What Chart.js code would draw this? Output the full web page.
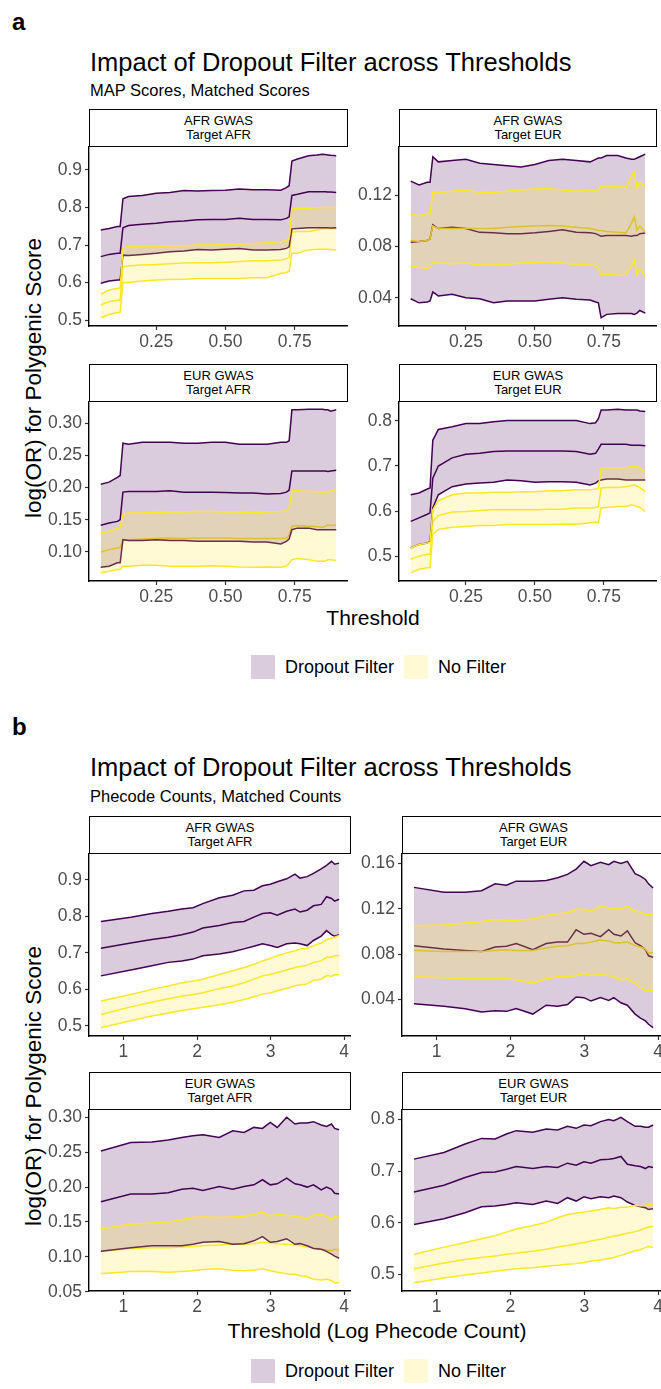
<!DOCTYPE html>
<html lang="en">
<head>
<meta charset="UTF-8">
<title>Impact of Dropout Filter across Thresholds</title>
<script src="https://cdn.jsdelivr.net/npm/chart.js"></script>
<style>
    * { margin: 0; padding: 0; box-sizing: border-box; }

    body {
        width: 661px;
        height: 1389px;
        overflow: hidden;
        position: relative;
        background: #fff;
        color: #000;
        font-family: 'Liberation Sans', Arial, sans-serif;
    }

    .txt { position: absolute; white-space: nowrap; line-height: 1; transform: translateY(-50%); }
    .tag { font-weight: bold; font-size: 24px; }
    .title { font-size: 25.5px; }
    .subtitle { font-size: 16.5px; }
    .xtitle { font-size: 21px; transform: translate(-50%, -50%); }
    .ytitle { font-size: 22.5px; transform: translate(-50%, -50%) rotate(-90deg); }

    .strip {
        position: absolute;
        border: 1.2px solid #000;
        background: #fff;
        font-size: 13px;
        line-height: 14px;
        text-align: center;
        display: flex;
        flex-direction: column;
        justify-content: center;
    }

    .facet { position: absolute; }

    .legend {
        position: absolute;
        display: flex;
        align-items: center;
        gap: 10px;
        font-size: 18px;
        transform: translateY(-50%);
        white-space: nowrap;
    }
    .key { width: 24px; height: 24px; }
</style>
</head>
<body>
    <div class="txt tag" style="left:12px;top:22px">a</div>
    <div class="txt title" style="left:90px;top:63px">Impact of Dropout Filter across Thresholds</div>
    <div class="txt subtitle" style="left:90px;top:90px">MAP Scores, Matched Scores</div>
    <div class="txt ytitle" style="left:34px;top:378px">log(OR) for Polygenic Score</div>
    <div class="txt xtitle" style="left:373px;top:617px">Threshold</div>
    <div class="legend" style="left:251px;top:667px">
        <div class="key" style="background:rgba(68,1,84,0.2)"></div><span>Dropout Filter</span>
        <div class="key" style="background:rgba(253,231,37,0.2)"></div><span>No Filter</span>
    </div>

    <div class="txt tag" style="left:12px;top:727px">b</div>
    <div class="txt title" style="left:90px;top:768px">Impact of Dropout Filter across Thresholds</div>
    <div class="txt subtitle" style="left:90px;top:796px">Phecode Counts, Matched Counts</div>
    <div class="txt ytitle" style="left:34px;top:1086px">log(OR) for Polygenic Score</div>
    <div class="txt xtitle" style="left:377px;top:1330px">Threshold (Log Phecode Count)</div>
    <div class="legend" style="left:251px;top:1371px">
        <div class="key" style="background:rgba(68,1,84,0.2)"></div><span>Dropout Filter</span>
        <div class="key" style="background:rgba(253,231,37,0.2)"></div><span>No Filter</span>
    </div>

<script>
// ---- panel a: MAP score thresholds ----
const thresholdsA = [0.05,0.08,0.11,0.12,0.13,0.15,0.20,0.25,0.30,0.35,0.40,0.45,0.50,0.55,0.60,0.65,0.70,0.72,0.73,0.74,0.76,0.80,0.83,0.85,0.86,0.87,0.88,0.90];
const xTicksA = [0.25, 0.50, 0.75];

// AFR GWAS / Target AFR
const mapAfrAfrDropHi  = [.740,.744,.749,.749,.823,.829,.832,.838,.840,.845,.844,.845,.846,.849,.847,.847,.846,.853,.858,.924,.929,.938,.940,.942,.941,.940,.939,.938];
const mapAfrAfrDropMid = [.669,.675,.678,.678,.746,.752,.755,.758,.762,.764,.767,.768,.768,.771,.768,.768,.767,.771,.775,.832,.835,.842,.842,.842,.842,.841,.841,.840];
const mapAfrAfrDropLo  = [.598,.604,.607,.607,.673,.672,.675,.678,.682,.684,.688,.687,.689,.691,.687,.687,.688,.691,.695,.743,.744,.746,.746,.746,.746,.746,.745,.746];
const mapAfrAfrNoneHi  = [.569,.580,.584,.586,.691,.696,.697,.697,.698,.698,.700,.700,.702,.703,.704,.706,.709,.713,.716,.796,.798,.798,.799,.800,.800,.800,.800,.800];
const mapAfrAfrNoneMid = [.540,.549,.553,.553,.642,.645,.647,.648,.650,.652,.653,.653,.654,.656,.658,.658,.660,.663,.667,.734,.736,.736,.740,.743,.743,.743,.743,.743];
const mapAfrAfrNoneLo  = [.506,.515,.520,.520,.600,.600,.604,.607,.608,.609,.611,.611,.611,.611,.613,.613,.624,.626,.630,.678,.678,.687,.689,.689,.689,.689,.688,.687];
const yTicksMapAfrAfr = [0.5, 0.6, 0.7, 0.8, 0.9];

// AFR GWAS / Target EUR
const mapAfrEurDropHi  = [.131,.128,.130,.130,.150,.146,.147,.148,.145,.144,.143,.142,.144,.147,.148,.147,.146,.148,.149,.149,.151,.151,.149,.148,.148,.149,.150,.152];
const mapAfrEurDropMid = [.0833,.0838,.0846,.0860,.0970,.0940,.0950,.0940,.0910,.0906,.0900,.0900,.0906,.0917,.0930,.0910,.0906,.0900,.0890,.0880,.0885,.0885,.0885,.0880,.0885,.0885,.0900,.0904];
const mapAfrEurDropLo  = [.0392,.0360,.0366,.0374,.0445,.0414,.0426,.0400,.0392,.0360,.0374,.0374,.0374,.0387,.0400,.0387,.0382,.0366,.0360,.0243,.0270,.0277,.0277,.0277,.0270,.0280,.0300,.0280];
const mapAfrEurNoneHi  = [.105,.104,.106,.105,.122,.122,.123,.124,.122,.122,.123,.124,.125,.125,.124,.123,.124,.123,.124,.127,.127,.127,.126,.135,.138,.126,.130,.127];
const mapAfrEurNoneMid = [.0846,.0838,.0846,.0860,.0960,.0940,.0940,.0940,.0940,.0940,.0950,.0956,.0960,.0964,.0960,.0950,.0940,.0930,.0925,.0925,.0917,.0910,.0906,.0980,.1030,.0925,.0960,.0910];
const mapAfrEurNoneLo  = [.0644,.0636,.0630,.0636,.0670,.0670,.0665,.0670,.0655,.0655,.0660,.0670,.0675,.0680,.0670,.0660,.0655,.0650,.0630,.0576,.0584,.0576,.0576,.0644,.0690,.0584,.0620,.0570];
const yTicksMapAfrEur = [0.04, 0.08, 0.12];

// EUR GWAS / Target AFR
const mapEurAfrDropHi  = [.2054,.2085,.2158,.2189,.2690,.2674,.2705,.2705,.2705,.2690,.2690,.2705,.2705,.2674,.2674,.2674,.2705,.2705,.2730,.3210,.3210,.3220,.3220,.3220,.3210,.3210,.3190,.3210];
const mapEurAfrDropMid = [.1414,.1450,.1475,.1500,.1930,.1940,.1940,.1940,.1950,.1930,.1930,.1930,.1925,.1915,.1915,.1900,.1910,.1930,.1960,.2260,.2260,.2260,.2260,.2260,.2260,.2250,.2260,.2270];
const mapEurAfrDropLo  = [.0762,.0778,.0830,.0830,.1190,.1176,.1176,.1190,.1176,.1176,.1165,.1165,.1165,.1165,.1155,.1155,.1124,.1165,.1200,.1346,.1370,.1370,.1346,.1346,.1346,.1346,.1346,.1346];
const mapEurAfrNoneHi  = [.1295,.1320,.1370,.1380,.1590,.1605,.1605,.1615,.1620,.1620,.1630,.1630,.1620,.1620,.1615,.1620,.1630,.1640,.1680,.1950,.1950,.1940,.1940,.1925,.1940,.1930,.1950,.1980];
const mapEurAfrNoneMid = [.1000,.1036,.1060,.1070,.1190,.1190,.1200,.1207,.1217,.1207,.1217,.1217,.1217,.1207,.1207,.1207,.1207,.1217,.1260,.1400,.1410,.1400,.1395,.1380,.1400,.1420,.1410,.1420];
const mapEurAfrNoneLo  = [.0675,.0700,.0726,.0726,.0778,.0778,.0793,.0793,.0778,.0778,.0778,.0783,.0778,.0767,.0762,.0767,.0762,.0778,.0820,.0880,.0897,.0880,.0855,.0855,.0855,.0880,.0880,.0866];
const yTicksMapEurAfr = [0.10, 0.15, 0.20, 0.25, 0.30];

// EUR GWAS / Target EUR
const mapEurEurDropHi  = [.636,.640,.649,.651,.757,.781,.787,.794,.794,.798,.801,.801,.801,.801,.801,.801,.794,.796,.805,.824,.824,.826,.824,.824,.824,.824,.822,.821];
const mapEurEurDropMid = [.577,.585,.593,.596,.673,.700,.718,.726,.728,.732,.733,.733,.733,.733,.733,.732,.726,.728,.7375,.748,.748,.748,.748,.746,.746,.746,.746,.745];
const mapEurEurDropLo  = [.518,.526,.529,.533,.607,.636,.654,.660,.662,.664,.669,.667,.664,.665,.665,.664,.658,.662,.667,.669,.671,.671,.669,.669,.669,.669,.669,.669];
const mapEurEurNoneHi  = [.518,.526,.529,.531,.603,.623,.636,.640,.640,.642,.642,.643,.643,.645,.645,.647,.647,.649,.651,.695,.696,.696,.696,.699,.700,.699,.696,.686];
const mapEurEurNoneMid = [.493,.500,.504,.504,.577,.590,.598,.599,.601,.603,.603,.603,.603,.604,.604,.607,.607,.608,.610,.651,.652,.652,.654,.657,.658,.655,.652,.643];
const mapEurEurNoneLo  = [.463,.471,.474,.474,.548,.559,.564,.566,.568,.568,.570,.570,.570,.570,.571,.571,.574,.575,.574,.607,.608,.610,.610,.614,.612,.610,.608,.599];
const yTicksMapEurEur = [0.5, 0.6, 0.7, 0.8];

// ---- panel b: log phecode count thresholds ----
const logCountsB = [0.693,1.099,1.386,1.609,1.792,1.946,2.079,2.303,2.485,2.639,2.773,2.890,2.996,3.091,3.219,3.332,3.401,3.497,3.584,3.689,3.761,3.829,3.871,3.932];
const xTicksB = [1, 2, 3, 4];

const phcAfrAfrDropHi  = [.786,.798,.808,.814,.820,.824,.835,.851,.858,.870,.872,.884,.888,.895,.903,.916,.905,.909,.918,.930,.940,.951,.943,.946];
const phcAfrAfrDropMid = [.713,.727,.737,.743,.750,.757,.768,.775,.783,.786,.798,.808,.810,.803,.814,.820,.812,.817,.829,.833,.854,.849,.842,.847];
const phcAfrAfrDropLo  = [.637,.653,.665,.674,.678,.683,.692,.697,.703,.711,.718,.725,.720,.715,.725,.727,.725,.720,.734,.746,.761,.750,.746,.750];
const phcAfrAfrNoneHi  = [.568,.586,.600,.609,.618,.623,.628,.641,.651,.660,.669,.678,.685,.692,.700,.706,.711,.713,.720,.727,.737,.740,.743,.748];
const phcAfrAfrNoneMid = [.531,.552,.565,.574,.581,.586,.591,.602,.609,.618,.628,.637,.641,.646,.653,.660,.663,.666,.674,.678,.688,.688,.692,.692];
const phcAfrAfrNoneLo  = [.495,.514,.527,.535,.542,.547,.551,.558,.565,.572,.580,.587,.590,.596,.603,.610,.612,.615,.625,.628,.638,.636,.640,.640];
const yTicksPhcAfrAfr = [0.5, 0.6, 0.7, 0.8, 0.9];

const phcAfrEurDropHi  = [.1388,.1346,.1346,.1358,.1419,.1407,.1443,.1443,.1449,.1473,.1503,.1549,.1618,.1579,.1609,.1588,.1618,.1600,.1618,.1510,.1488,.1458,.1419,.1382];
const phcAfrEurDropMid = [.0874,.0844,.0832,.0823,.0862,.0868,.0893,.0838,.0893,.0905,.0905,.1014,.0974,.0983,.0953,.1014,.0974,.0959,.1004,.0899,.0874,.0838,.0784,.0772];
const phcAfrEurDropLo  = [.0361,.0340,.0318,.0288,.0300,.0294,.0318,.0270,.0348,.0340,.0355,.0421,.0415,.0385,.0415,.0391,.0415,.0370,.0348,.0270,.0234,.0210,.0180,.0150];
const phcAfrEurNoneHi  = [.1050,.1056,.1074,.1086,.1104,.1095,.1095,.1110,.1140,.1156,.1165,.1195,.1195,.1177,.1225,.1207,.1201,.1195,.1225,.1177,.1171,.1147,.1147,.1156];
const phcAfrEurNoneMid = [.0832,.0823,.0823,.0823,.0832,.0838,.0832,.0832,.0853,.0868,.0874,.0893,.0893,.0905,.0923,.0914,.0899,.0899,.0905,.0874,.0862,.0844,.0808,.0814];
const phcAfrEurNoneLo  = [.0600,.0590,.0581,.0581,.0581,.0581,.0572,.0542,.0581,.0600,.0600,.0611,.0627,.0611,.0620,.0611,.0596,.0572,.0581,.0542,.0506,.0475,.0475,.0481];
const yTicksPhcAfrEur = [0.04, 0.08, 0.12, 0.16];

const phcEurAfrDropHi  = [.2516,.2637,.2647,.2676,.2710,.2734,.2748,.2710,.2806,.2782,.2855,.2840,.2927,.2855,.3000,.2903,.2918,.2918,.2937,.2889,.2869,.2903,.2840,.2821];
const phcEurAfrDropMid = [.1790,.1900,.1900,.1920,.1969,.1984,.1950,.2008,.1969,.2008,.2032,.2105,.2032,.2047,.2129,.2047,.2032,.2000,.2032,.1960,.2000,.1969,.1911,.1900];
const phcEurAfrDropLo  = [.108,.113,.116,.116,.116,.118,.121,.122,.118,.119,.123,.129,.121,.122,.126,.118,.119,.116,.112,.111,.108,.104,.101,.098];
const phcEurAfrNoneHi  = [.1403,.1466,.1485,.1500,.1533,.1563,.1572,.1563,.1572,.1582,.1611,.1645,.1582,.1611,.1596,.1582,.1572,.1548,.1596,.1611,.1582,.1533,.1582,.1572];
const phcEurAfrNoneMid = [.108,.112,.113,.113,.114,.115,.116,.117,.118,.118,.119,.121,.120,.119,.118,.117,.116,.114,.113,.111,.110,.109,.111,.109];
const phcEurAfrNoneLo  = [.0757,.0790,.0790,.0780,.0790,.0800,.0820,.0830,.0810,.0800,.0810,.0830,.0800,.0780,.0760,.0750,.0730,.0720,.0680,.0670,.0680,.0660,.0630,.0630];
const yTicksPhcEurAfr = [0.05, 0.10, 0.15, 0.20, 0.25, 0.30];

const phcEurEurDropHi  = [.7234,.7364,.7526,.7636,.7623,.7721,.7786,.7753,.7818,.7799,.7870,.7831,.7896,.7883,.7961,.8000,.7980,.8045,.7961,.7870,.7870,.7851,.7851,.7896];
const phcEurEurDropMid = [.6597,.6727,.6877,.6974,.6987,.7039,.7091,.7052,.7091,.7071,.7156,.7117,.7182,.7156,.7221,.7234,.7247,.7286,.7136,.7104,.7091,.7052,.7091,.7071];
const phcEurEurDropLo  = [.5968,.6078,.6195,.6312,.6325,.6357,.6390,.6357,.6422,.6377,.6487,.6422,.6506,.6468,.6506,.6487,.6519,.6487,.6403,.6338,.6312,.6292,.6260,.6273];
const phcEurEurNoneHi  = [.539,.553,.562,.569,.575,.582,.588,.595,.601,.610,.616,.619,.621,.623,.626,.629,.628,.630,.630,.634,.633,.634,.635,.636];
const phcEurEurNoneMid = [.511,.522,.529,.533,.536,.539,.541,.545,.549,.553,.556,.559,.562,.565,.568,.572,.574,.577,.580,.583,.586,.590,.592,.593];
const phcEurEurNoneLo  = [.484,.493,.499,.503,.506,.509,.511,.513,.516,.518,.520,.521,.523,.526,.528,.531,.533,.537,.541,.546,.548,.552,.554,.552];
const yTicksPhcEurEur = [0.5, 0.6, 0.7, 0.8];

// ---- drawing ----
const FONT = "'Liberation Sans', Arial, sans-serif";
const PURPLE = '#440154', YELLOW = '#FDE725';
const PURPLE_FILL = 'rgba(68,1,84,0.2)', YELLOW_FILL = 'rgba(253,231,37,0.2)';
const YW = 60, XH = 30;   // space kept for y tick labels / x tick labels

Chart.defaults.font.family = FONT;

function makeFacet(f) {
    const [L, T, R, B] = f.box;

    const strip = document.createElement('div');
    strip.className = 'strip';
    strip.style.cssText = `left:${L}px;top:${T - 37}px;width:${R - L}px;height:38px`;
    strip.innerHTML = f.strip.map(s => `<div>${s}</div>`).join('');

    const wrap = document.createElement('div');
    wrap.className = 'facet';
    wrap.style.cssText = `left:${L - YW}px;top:${T}px;width:${R - L + YW}px;height:${B - T + XH}px`;
    const cv = document.createElement('canvas');
    wrap.appendChild(cv);
    document.body.appendChild(wrap);
    document.body.appendChild(strip);

    // ggplot-style 5% expansion of the data range
    const all = f.drop.concat(f.none).flat();
    const yMin = Math.min(...all), yMax = Math.max(...all), yPad = (yMax - yMin) * 0.05;
    const xMin = Math.min(...f.x), xMax = Math.max(...f.x), xPad = (xMax - xMin) * 0.05;

    const pts = arr => arr.map((y, i) => ({ x: f.x[i], y }));
    const line = (arr, color, order, extra) => Object.assign({
        data: pts(arr), borderColor: color, borderWidth: 1.5,
        pointRadius: 0, tension: 0, fill: false, order
    }, extra || {});

    // order: higher is drawn first (underneath)
    const datasets = [
        line(f.drop[1], PURPLE, 6),
        line(f.none[1], YELLOW, 5),
        line(f.drop[0], PURPLE, 4),
        line(f.drop[2], PURPLE, 3, { fill: 2, backgroundColor: PURPLE_FILL }),
        line(f.none[0], YELLOW, 2),
        line(f.none[2], YELLOW, 1, { fill: 4, backgroundColor: YELLOW_FILL })
    ];

    const axis = (ticks, dec) => ({
        border: { display: true, color: '#000', width: 1.4 },
        grid: { display: true, drawOnChartArea: false, drawTicks: true, tickLength: 4, color: '#333', tickWidth: 1.2 },
        ticks: { color: '#4d4d4d', font: { size: 17.5 }, autoSkip: false, maxRotation: 0, callback: v => Number(v).toFixed(dec) },
        afterBuildTicks: s => { s.ticks = ticks.map(v => ({ value: v })); }
    });

    const xAxis = axis(f.xTicks, f.xDec);
    xAxis.type = 'linear';
    xAxis.min = xMin - xPad; xAxis.max = xMax + xPad;
    xAxis.ticks.padding = 2;
    xAxis.afterFit = s => { s.height = XH; s.paddingLeft = 0; s.paddingRight = 0; };

    const yAxis = axis(f.yTicks, f.yDec);
    yAxis.min = yMin - yPad; yAxis.max = yMax + yPad;
    yAxis.ticks.padding = 3;
    yAxis.afterFit = s => { s.width = YW; s.paddingTop = 0; s.paddingBottom = 0; };

    new Chart(cv, {
        type: 'line',
        data: { datasets },
        options: {
            responsive: true,
            maintainAspectRatio: false,
            animation: false,
            events: [],
            layout: { padding: 0 },
            plugins: { legend: { display: false }, tooltip: { enabled: false } },
            scales: { x: xAxis, y: yAxis }
        }
    });
}

// panel a
makeFacet({ box: [89, 146, 348, 326], strip: ['AFR GWAS', 'Target AFR'], x: thresholdsA, xTicks: xTicksA, xDec: 2,
    yTicks: yTicksMapAfrAfr, yDec: 1,
    drop: [mapAfrAfrDropLo, mapAfrAfrDropMid, mapAfrAfrDropHi], none: [mapAfrAfrNoneLo, mapAfrAfrNoneMid, mapAfrAfrNoneHi] });
makeFacet({ box: [399, 146, 657, 326], strip: ['AFR GWAS', 'Target EUR'], x: thresholdsA, xTicks: xTicksA, xDec: 2,
    yTicks: yTicksMapAfrEur, yDec: 2,
    drop: [mapAfrEurDropLo, mapAfrEurDropMid, mapAfrEurDropHi], none: [mapAfrEurNoneLo, mapAfrEurNoneMid, mapAfrEurNoneHi] });
makeFacet({ box: [89, 401, 348, 581], strip: ['EUR GWAS', 'Target AFR'], x: thresholdsA, xTicks: xTicksA, xDec: 2,
    yTicks: yTicksMapEurAfr, yDec: 2,
    drop: [mapEurAfrDropLo, mapEurAfrDropMid, mapEurAfrDropHi], none: [mapEurAfrNoneLo, mapEurAfrNoneMid, mapEurAfrNoneHi] });
makeFacet({ box: [399, 401, 657, 581], strip: ['EUR GWAS', 'Target EUR'], x: thresholdsA, xTicks: xTicksA, xDec: 2,
    yTicks: yTicksMapEurEur, yDec: 1,
    drop: [mapEurEurDropLo, mapEurEurDropMid, mapEurEurDropHi], none: [mapEurEurNoneLo, mapEurEurNoneMid, mapEurEurNoneHi] });

// panel b
makeFacet({ box: [89, 853, 351, 1036], strip: ['AFR GWAS', 'Target AFR'], x: logCountsB, xTicks: xTicksB, xDec: 0,
    yTicks: yTicksPhcAfrAfr, yDec: 1,
    drop: [phcAfrAfrDropLo, phcAfrAfrDropMid, phcAfrAfrDropHi], none: [phcAfrAfrNoneLo, phcAfrAfrNoneMid, phcAfrAfrNoneHi] });
makeFacet({ box: [402, 853, 665, 1036], strip: ['AFR GWAS', 'Target EUR'], x: logCountsB, xTicks: xTicksB, xDec: 0,
    yTicks: yTicksPhcAfrEur, yDec: 2,
    drop: [phcAfrEurDropLo, phcAfrEurDropMid, phcAfrEurDropHi], none: [phcAfrEurNoneLo, phcAfrEurNoneMid, phcAfrEurNoneHi] });
makeFacet({ box: [89, 1109, 351, 1291], strip: ['EUR GWAS', 'Target AFR'], x: logCountsB, xTicks: xTicksB, xDec: 0,
    yTicks: yTicksPhcEurAfr, yDec: 2,
    drop: [phcEurAfrDropLo, phcEurAfrDropMid, phcEurAfrDropHi], none: [phcEurAfrNoneLo, phcEurAfrNoneMid, phcEurAfrNoneHi] });
makeFacet({ box: [402, 1109, 665, 1291], strip: ['EUR GWAS', 'Target EUR'], x: logCountsB, xTicks: xTicksB, xDec: 0,
    yTicks: yTicksPhcEurEur, yDec: 1,
    drop: [phcEurEurDropLo, phcEurEurDropMid, phcEurEurDropHi], none: [phcEurEurNoneLo, phcEurEurNoneMid, phcEurEurNoneHi] });
</script>
</body>
</html>
